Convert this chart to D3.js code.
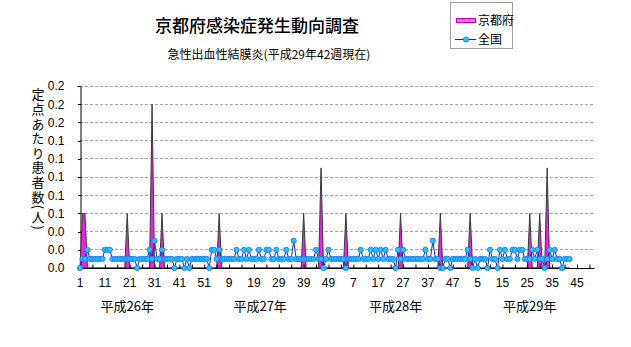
<!DOCTYPE html>
<html><head><meta charset="utf-8">
<script src="https://cdn.jsdelivr.net/npm/d3@7"></script>
<style>
html,body{margin:0;padding:0;background:#fff;}
svg text{font-family:"Noto Sans CJK JP","Noto Sans",sans-serif;fill:#000;}
</style></head><body>
<svg id="c" width="631" height="347"></svg>
<script>
// ---- data ----
const title = "京都府感染症発生動向調査";
const subtitle = "急性出血性結膜炎(平成29年42週現在)";
const yLabel = "定点あたり患者数(人)";
const seriesNames = ["京都府", "全国"];
const yearLabels = ["平成26年", "平成27年", "平成28年", "平成29年"];
const weeksPerYear = [52, 52, 52, 52];
const xTickLabels = ["1","11","21","31","41","51","9","19","29","39","49","7","17","27","37","47","5","15","25","35","45"];
const yTicks = [0, 0.02, 0.04, 0.06, 0.08, 0.10, 0.12, 0.14, 0.16, 0.18, 0.20];

// 京都府 weekly values (H26 w1 .. H29 w42)
const kyoto = [
 0,.06,.06,0,0,0,0,0,0,0,
 0,0,0,0,0,0,0,0,0,.06,
 0,0,0,0,0,0,0,0,0,.18,
 0,0,0,.06,0,0,0,0,0,0,
 0,0,0,0,0,0,0,0,0,0,
 0,0,0,0,0,0,.06,0,0,0,
 0,0,0,0,0,0,0,0,0,0,
 0,0,0,0,0,0,0,0,0,0,
 0,0,0,0,0,0,0,0,0,0,
 .06,0,0,0,0,0,0,.11,0,0,
 0,0,0,0,0,0,0,.06,0,0,
 0,0,0,0,0,0,0,0,0,0,
 0,0,0,0,0,0,0,0,0,.06,
 0,0,0,0,0,0,0,0,0,0,
 0,0,0,0,0,.06,0,0,0,0,
 0,0,0,0,0,0,0,.06,0,0,
 0,0,0,0,0,0,0,0,0,0,
 0,0,0,0,0,0,0,0,0,0,
 0,.06,0,0,0,.06,0,0,.11,0,
 0,0,0,0,0,0,0,0
];
// 全国 weekly values
const national = [
 0,.01,.01,.02,.01,.01,.01,.01,.01,.01,
 .02,.02,.02,.01,.01,.01,.01,.01,.01,.01,
 .01,.01,.01,0,.01,.01,.01,.01,.02,.01,
 .03,.01,.01,.02,.01,.01,.01,.01,0,.01,
 .01,.01,0,.01,0,.01,.01,.01,.01,.01,
 .01,.01,0,.02,.02,.01,.02,.01,.01,.01,
 .01,.01,.01,.02,.01,.01,.02,.01,.02,.01,
 .01,.01,.02,.01,.01,.02,.02,.01,.01,.02,
 .01,.01,.01,.02,.01,.01,.03,.01,.01,.01,
 .01,.01,.01,.01,.01,.02,.01,.01,0,.01,
 .02,.01,.01,.01,.01,.01,.01,0,.01,.01,
 .01,.01,.01,.02,.01,.01,.01,.02,.01,.02,
 .01,.02,.01,.02,.01,.01,.01,0,.02,.01,
 .02,.01,.01,.01,.01,.01,.01,.01,.01,.02,
 .01,.01,.03,.01,.01,0,0,.01,.01,0,
 .01,.01,.01,.01,.01,.01,.02,.01,0,.01,
 0,.01,.01,.01,0,.02,.01,.01,0,.02,
 .01,.02,.01,.01,.02,.02,.01,.02,.02,.01,
 .01,.01,.02,.01,.02,.01,.01,0,.01,.02,
 .01,.02,.01,.01,0,.01,.01,.01
];

// ---- chart ----
const svg = d3.select("#c");
const totalWeeks = d3.sum(weeksPerYear);
const x = d3.scaleLinear().domain([0, totalWeeks - 1]).range([80, 80 + (totalWeeks - 1) * 2.485]);
const y = d3.scaleLinear().domain([0, 0.2]).range([268, 86]);

// title
svg.append("text").attr("x", 257).attr("y", 32).attr("text-anchor", "middle")
  .style("font-size", "17px").style("font-weight", "500").text(title);
svg.append("text").attr("x", 269).attr("y", 59).attr("text-anchor", "middle")
  .style("font-size", "12px").text(subtitle);

// gridlines
svg.append("g").selectAll("line").data(yTicks.slice(1)).join("line")
  .attr("x1", x(0)).attr("x2", x(totalWeeks - 1))
  .attr("y1", d => y(d)).attr("y2", d => y(d))
  .attr("stroke", "#a8a8a8").attr("stroke-width", 1).attr("stroke-dasharray", "3,2")
  .attr("shape-rendering", "crispEdges");

// y axis
const yAxis = d3.axisLeft(y).tickValues(yTicks).tickFormat(d3.format(".1f")).tickSize(3).tickPadding(13);
const gy = svg.append("g").attr("transform", "translate(80.5,0)").call(yAxis);
gy.select(".domain").attr("stroke", "#000");
gy.selectAll(".tick line").attr("stroke", "#000");
gy.selectAll("text").style("font-family", "'Liberation Sans Narrow','Liberation Sans',sans-serif").style("font-size", "12px").attr("fill", "#000");
gy.selectAll(".tick").attr("shape-rendering", "crispEdges");

// y label (vertical)
svg.append("text").attr("x", 38).attr("y", 88)
  .style("writing-mode", "vertical-rl").style("font-size", "13px").style("letter-spacing", "1.6px")
  .text(yLabel);

// kyoto area
const idx = d3.range(kyoto.length);
const area = d3.area().x(i => x(i)).y0(y(0)).y1(i => y(kyoto[i]));
svg.append("path").datum(idx).attr("d", area)
  .attr("fill", "#f21ee6").attr("stroke", "#3a3a3a").attr("stroke-width", 1);

// x axis
const xAxis = d3.axisBottom(x).tickValues(d3.range(0, totalWeeks, 5)).tickSize(-4).tickFormat("");
const gx = svg.append("g").attr("transform", "translate(0,268.5)").call(xAxis);
gx.select(".domain").attr("stroke", "#000").attr("d", `M${x(0)},0H${x(totalWeeks - 1)}`);
gx.selectAll(".tick line").attr("stroke", "#000");

// x tick labels
const labelIdx = d3.range(0, totalWeeks, 10).slice(0, xTickLabels.length);
svg.append("g").selectAll("text").data(labelIdx).join("text")
  .attr("x", d => x(d)).attr("y", 287).attr("text-anchor", "middle")
  .style("font-family", "'Liberation Sans Narrow','Liberation Sans',sans-serif").style("font-size", "12px")
  .text((d, i) => xTickLabels[i]);

// year labels
const yearStarts = d3.cumsum([0, ...weeksPerYear.slice(0, -1)]);
const yearOffsets = [19, 20.5, 23, 25];
svg.append("g").selectAll("text").data(yearLabels).join("text")
  .attr("x", (d, i) => x(yearStarts[i] + yearOffsets[i])).attr("y", 311).attr("text-anchor", "middle")
  .style("font-size", "13px").text(d => d);

// national line
const line = d3.line().x(i => x(i)).y(i => y(national[i]));
const nIdx = d3.range(national.length);
svg.append("path").datum(nIdx).attr("d", line).attr("fill", "none")
  .attr("stroke", "#1a2a9a").attr("stroke-width", 1);
svg.append("g").selectAll("circle").data(nIdx).join("circle")
  .attr("cx", i => x(i)).attr("cy", i => y(national[i])).attr("r", 2.6)
  .attr("fill", "#1ec8ff").attr("stroke", "#1f6bff").attr("stroke-width", 0.8);

// legend
const lg = svg.append("g");
lg.append("rect").attr("x", 450.5).attr("y", 2.5).attr("width", 62).attr("height", 46)
  .attr("fill", "#fff").attr("stroke", "#a0a0a0");
lg.append("rect").attr("x", 456.5).attr("y", 18.5).attr("width", 19).attr("height", 4)
  .attr("fill", "#ff6ee0").attr("stroke", "#c000c0");
lg.append("text").attr("x", 478).attr("y", 25).style("font-size", "12px").text(seriesNames[0]);
lg.append("line").attr("x1", 455).attr("x2", 476).attr("y1", 39.5).attr("y2", 39.5).attr("stroke", "#1a2a9a");
lg.append("circle").attr("cx", 466).attr("cy", 39.5).attr("r", 2.6).attr("fill", "#1ec8ff").attr("stroke", "#1f6bff").attr("stroke-width", 0.8);
lg.append("text").attr("x", 478).attr("y", 44).style("font-size", "12px").text(seriesNames[1]);
</script>
</body></html>
